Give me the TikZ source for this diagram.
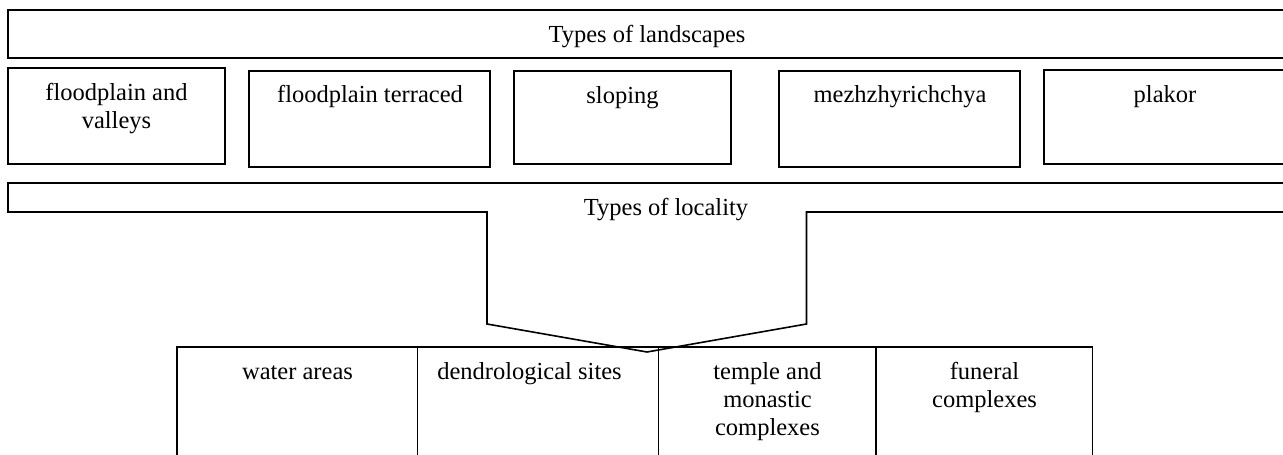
\documentclass[tikz,border=0pt]{standalone}
\usepackage{fontspec}
\setmainfont{Liberation Serif}
\begin{document}
\begin{tikzpicture}[x=1pt,y=-1pt,
  line/.style={draw=black,line width=1.6pt},
  lbl/.style={anchor=base,inner sep=0pt,font=\fontsize{24.5}{28}\selectfont}]
\useasboundingbox (0,0) rectangle (1283,455);
\begin{scope}
\clip (0,0) rectangle (1283,455);
% top band
\draw[line] (8,10) rectangle (1290,58);
\node[lbl] (landscapes) at (647,42) {Types of landscapes};
% landscape boxes
\draw[line] (8,68) rectangle (225,164);
\draw[line] (249,71) rectangle (490,167);
\draw[line] (514,71) rectangle (731,164);
\draw[line] (779,71) rectangle (1020,167);
\draw[line] (1044,70) rectangle (1290,164);
\node[lbl] (flood) at (116.5,100) {\begin{tabular}[t]{@{}c@{}}floodplain and\\valleys\end{tabular}};
\node[lbl] (terr) at (370,102.5) {floodplain terraced};
\node[lbl] (slop) at (622.5,103) {sloping};
\node[lbl] (mezh) at (900,102.5) {mezhzhyrichchya};
\node[lbl] (plak) at (1165,102) {plakor};
% locality band with funnel
\coordinate (fl) at (487,212);
\coordinate (fr) at (806.5,212);
\coordinate (fbl) at (487,324);
\coordinate (fbr) at (806.5,324);
\coordinate (apex) at (647,352);
\draw[line,line join=miter] (1290,183) -- (8,183) -- (8,212) -- (fl) -- (fbl) -- (apex) -- (fbr) -- (fr) -- (1290,212);
\node[lbl] (locality) at (666,215) {Types of locality};
% bottom boxes
\draw[line] (177,347) rectangle (1092.5,470);
\draw[line] (417.5,347) -- (417.5,470);
\draw[line] (658.5,347) -- (658.5,470);
\draw[line] (876,347) -- (876,470);
\node[lbl] (water) at (297.5,379.5) {water areas};
\node[lbl] (dendro) at (529.5,379.5) {dendrological sites};
\node[lbl] (temple) at (767.5,379.5) {\begin{tabular}[t]{@{}c@{}}temple and\\monastic\\complexes\end{tabular}};
\node[lbl] (funeral) at (984.5,379.5) {\begin{tabular}[t]{@{}c@{}}funeral\\complexes\end{tabular}};
\end{scope}
\end{tikzpicture}
\end{document}
